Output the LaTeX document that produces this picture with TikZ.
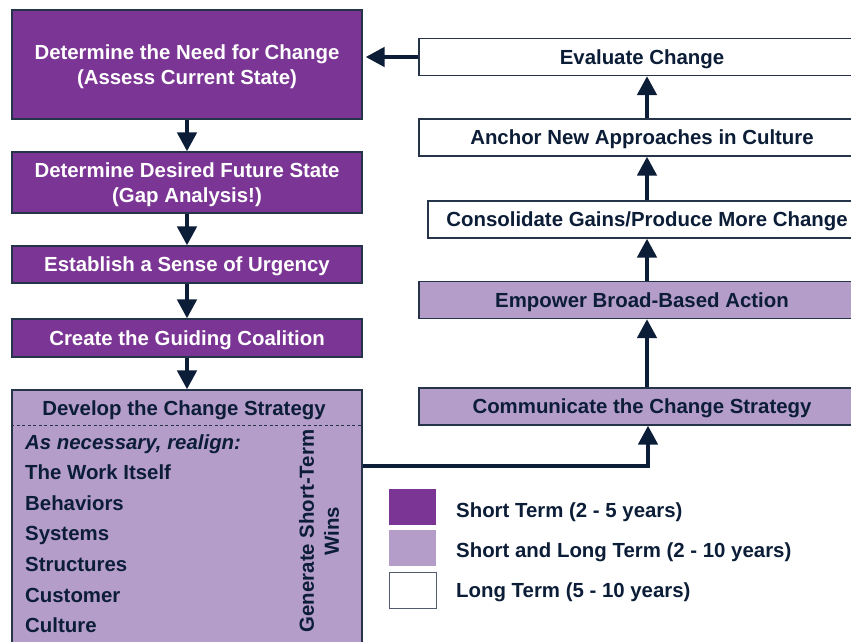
\documentclass[tikz,border=0pt]{standalone}
\usepackage{fontspec}
\setmainfont{Liberation Sans}
\usetikzlibrary{arrows.meta}
\definecolor{deep}{HTML}{7B3594}
\definecolor{soft}{HTML}{B59DC9}
\definecolor{ink}{HTML}{0C1D37}
\definecolor{edge}{HTML}{26344A}
\begin{document}
\begin{tikzpicture}[x=1pt,y=-1pt,
  every node/.style={font=\fontsize{20.4}{25}\selectfont\bfseries, inner sep=0pt, text depth=0pt},
  box/.style={draw=edge, line width=1.2pt, minimum width=350pt, align=center},
  darkbox/.style={box, fill=deep, text=white},
  lightbox/.style={box, fill=soft, text=ink},
  whitebox/.style={box, fill=white, text=ink},
  rbox/.style={minimum width=446pt, minimum height=37pt},
  arr/.style={draw=ink, line width=4.5pt, -{Triangle[width=19pt,length=19pt]}},
  item/.style={anchor=west, text=ink},
  swatch/.style={minimum width=47pt, minimum height=36pt}
]
\useasboundingbox (0,0) rectangle (851,642);

% left column
\node[darkbox, minimum height=109pt] (need) at (187,64.5)
  {Determine the Need for Change\\(Assess Current State)};
\node[darkbox, minimum height=61pt] (future) at (187,182.5)
  {Determine Desired Future State\\(Gap Analysis!)};
\node[darkbox, minimum height=37pt] (urgency) at (187,264.5)
  {Establish a Sense of Urgency};
\node[darkbox, minimum height=38pt] (coalition) at (187,338)
  {Create the Guiding Coalition};
\node[lightbox, minimum height=270pt] (dev) at (187,525) {};
\node[text=ink] (devhead) at (184,408) {Develop the Change Strategy};
\draw[edge, line width=1pt, dash pattern=on 3pt off 2.5pt] (dev.west |- 0,425) -- (dev.east |- 0,425);

\node[item] (realign) at (25,442) {\itshape As necessary, realign:};
\node[item] (work) at (25,472) {The Work Itself};
\node[item] (behav) at (25,503) {Behaviors};
\node[item] (sys) at (25,533) {Systems};
\node[item] (struct) at (25,564) {Structures};
\node[item] (cust) at (25,595) {Customer};
\node[item] (cult) at (25,625) {Culture};
\node[text=ink, rotate=90, align=center] (wins) at (319,531) {Generate Short-Term\\Wins};

% right column
\node[whitebox, rbox] (eval) at (642,57) {Evaluate Change};
\node[whitebox, rbox] (anchor) at (642,137.5) {Anchor New Approaches in Culture};
\node[whitebox, rbox, minimum width=438pt] (consol) at (647,219.5) {Consolidate Gains/Produce More Change};
\node[lightbox, rbox] (empower) at (642,300) {Empower Broad-Based Action};
\node[lightbox, rbox] (comm) at (642,406.5) {Communicate the Change Strategy};

% connectors
\draw[arr] (need.south) -- (future.north);
\draw[arr] (future.south) -- (urgency.north);
\draw[arr] (urgency.south) -- (coalition.north);
\draw[arr] (coalition.south) -- (dev.north);
\draw[arr] (dev.east |- 0,466) -| ([xshift=6pt]comm.south);
\draw[arr] ([xshift=5pt]comm.north) -- ([xshift=5pt]empower.south);
\draw[arr] ([xshift=5pt]empower.north) -- (consol.south);
\draw[arr] (consol.north) -- ([xshift=5pt]anchor.south);
\draw[arr] ([xshift=5pt]anchor.north) -- ([xshift=5pt]eval.south);
\draw[arr] (eval.west) -- ([xshift=3pt]need.east |- eval.west);

% legend
\node[swatch, fill=deep] (keyshort) at (412.5,507) {};
\node[swatch, fill=soft] (keyboth) at (412.5,548) {};
\node[swatch, fill=white, draw=edge!80, line width=1.2pt] (keylong) at (413,590.5) {};
\node[item] (txtshort) at (456,510) {Short Term (2 - 5 years)};
\node[item] (txtboth) at (456,550) {Short and Long Term (2 - 10 years)};
\node[item] (txtlong) at (456,590) {Long Term (5 - 10 years)};
\end{tikzpicture}
\end{document}
